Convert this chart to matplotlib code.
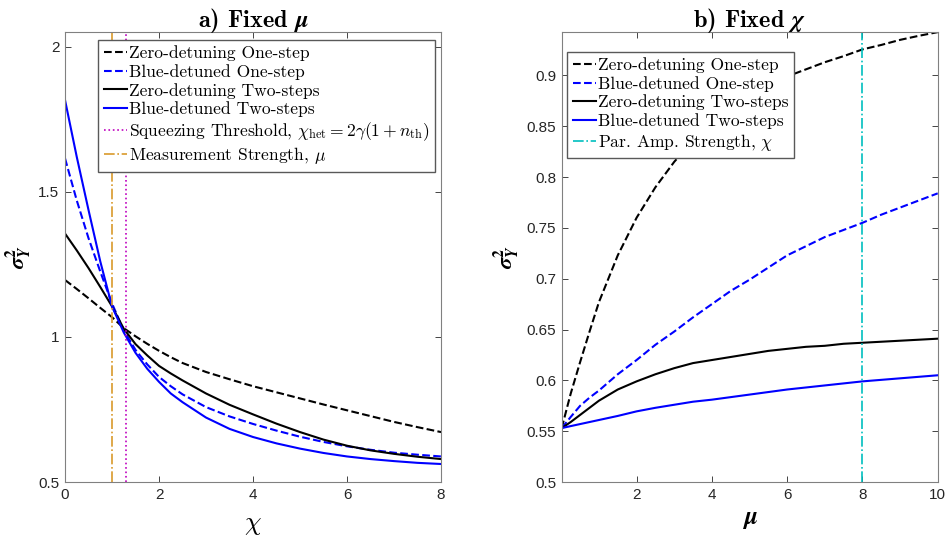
import numpy as np
import matplotlib
matplotlib.use('Agg')
import matplotlib.pyplot as plt
from matplotlib.font_manager import FontProperties

plt.rcParams['mathtext.fontset'] = 'cm'
plt.rcParams['font.family'] = ['Liberation Sans', 'DejaVu Sans']
plt.rcParams['axes.unicode_minus'] = False

# panel a: variance vs chi (fixed mu)
chi = [0, 0.25, 0.5, 0.75, 1, 1.25, 1.5, 1.75, 2, 2.25, 2.5, 3, 3.5, 4, 4.5, 5, 5.5, 6, 6.5, 7, 7.5, 8]
a_zero_one = [1.196, 1.165, 1.133, 1.100, 1.068, 1.030, 1.002, 0.976, 0.952, 0.930, 0.910, 0.879,
              0.854, 0.830, 0.809, 0.788, 0.767, 0.747, 0.727, 0.707, 0.689, 0.672]
a_blue_one = [1.615, 1.470, 1.340, 1.225, 1.115, 1.022, 0.955, 0.905, 0.862, 0.830, 0.802, 0.758,
              0.726, 0.700, 0.677, 0.656, 0.638, 0.623, 0.611, 0.601, 0.594, 0.588]
a_zero_two = [1.356, 1.298, 1.237, 1.172, 1.105, 1.028, 0.975, 0.936, 0.900, 0.874, 0.850, 0.805,
              0.766, 0.733, 0.701, 0.672, 0.646, 0.625, 0.609, 0.597, 0.587, 0.579]
a_blue_two = [1.816, 1.620, 1.437, 1.260, 1.105, 1.015, 0.945, 0.890, 0.845, 0.805, 0.775, 0.722,
              0.683, 0.655, 0.633, 0.615, 0.600, 0.588, 0.579, 0.572, 0.566, 0.562]
mu_fixed = 1.0
chi_threshold = 1.3

# panel b: variance vs mu (fixed chi)
mu = [0.01, 0.25, 0.5, 0.75, 1, 1.5, 2, 2.5, 3, 3.5, 4, 4.5, 5, 5.5, 6, 6.5, 7, 7.5, 8, 8.5, 9, 9.5, 10]
b_zero_one = [0.553, 0.587, 0.618, 0.648, 0.677, 0.723, 0.760, 0.790, 0.815, 0.836, 0.853, 0.868,
              0.880, 0.890, 0.899, 0.906, 0.913, 0.919, 0.9256, 0.930, 0.935, 0.939, 0.9426]
b_blue_one = [0.553, 0.564, 0.575, 0.583, 0.590, 0.606, 0.620, 0.635, 0.648, 0.662, 0.675, 0.688,
              0.699, 0.711, 0.723, 0.732, 0.741, 0.748, 0.755, 0.763, 0.770, 0.777, 0.784]
b_zero_two = [0.553, 0.559, 0.566, 0.573, 0.580, 0.591, 0.599, 0.606, 0.612, 0.617, 0.620, 0.623,
              0.626, 0.629, 0.631, 0.633, 0.634, 0.636, 0.637, 0.638, 0.639, 0.640, 0.641]
b_blue_two = [0.553, 0.555, 0.557, 0.559, 0.561, 0.565, 0.5695, 0.573, 0.576, 0.579, 0.581, 0.5835,
              0.586, 0.5885, 0.591, 0.593, 0.595, 0.597, 0.599, 0.6005, 0.602, 0.6035, 0.605]
chi_fixed = 8.0

labels = ['Zero-detuning One-step', 'Blue-detuned One-step',
          'Zero-detuning Two-steps', 'Blue-detuned Two-steps']

fig = plt.figure(figsize=(9.52, 5.42), dpi=100)
ax1 = fig.add_axes([0.0683, 0.1107, 0.395, 0.830])
ax2 = fig.add_axes([0.590, 0.1107, 0.395, 0.830])

leg_font = FontProperties(family='cmr10', size=12.6)
leg_kw = dict(prop=leg_font, frameon=True, fancybox=False, edgecolor='0.35', framealpha=1,
              handlelength=1.35, handletextpad=0.1, borderpad=0.3, labelspacing=0.16,
              borderaxespad=0)

ax1.plot(chi, a_zero_one, 'k--', lw=1.5, label=labels[0])
ax1.plot(chi, a_blue_one, '--', color='b', lw=1.5, label=labels[1])
ax1.plot(chi, a_zero_two, 'k-', lw=1.5, label=labels[2])
ax1.plot(chi, a_blue_two, '-', color='b', lw=1.5, label=labels[3])
ax1.axvline(chi_threshold, color='m', ls=':', lw=1.2,
            label=r'Squeezing Threshold, $\chi_{\rm het} = 2\gamma(1 + n_{\rm th})$')
ax1.axvline(mu_fixed, color='#D99A2B', ls='-.', lw=1.2, label=r'Measurement Strength, $\mu$')
ax1.set_xlim(0, 8)
ax1.set_ylim(0.5, 2.05)
ax1.set_xticks([0, 2, 4, 6, 8])
ax1.set_yticks([0.5, 1, 1.5, 2])
ax1.set_yticklabels(['0.5', '1', '1.5', '2'])
ax1.set_title(r'a) Fixed $\mathbfit{\mu}$', fontfamily='cmb10', fontsize=17.5, pad=4,
              math_fontfamily='stix')
ax1.set_xlabel(r'$\chi$', fontsize=19, labelpad=8)
ax1.set_ylabel(r'$\mathbfit{\sigma}^{\mathbf{2}}_{\mathbfit{Y}}$', fontsize=16, labelpad=4,
               math_fontfamily='stix')
ax1.legend(loc='upper right', bbox_to_anchor=(0.984, 0.982), **leg_kw)

ax2.plot(mu, b_zero_one, 'k--', lw=1.5, label=labels[0])
ax2.plot(mu, b_blue_one, '--', color='b', lw=1.5, label=labels[1])
ax2.plot(mu, b_zero_two, 'k-', lw=1.5, label=labels[2])
ax2.plot(mu, b_blue_two, '-', color='b', lw=1.5, label=labels[3])
ax2.axvline(chi_fixed, color='c', ls='-.', lw=1.2, label=r'Par. Amp. Strength, $\chi$')
ax2.set_xlim(0.01, 10)
ax2.set_ylim(0.5, 0.9426)
ax2.set_xticks([2, 4, 6, 8, 10])
ax2.set_yticks([0.5, 0.55, 0.6, 0.65, 0.7, 0.75, 0.8, 0.85, 0.9])
ax2.set_yticklabels(['0.5', '0.55', '0.6', '0.65', '0.7', '0.75', '0.8', '0.85', '0.9'])
ax2.set_title(r'b) Fixed $\mathbfit{\chi}$', fontfamily='cmb10', fontsize=17.5, pad=4,
              math_fontfamily='stix')
ax2.set_xlabel(r'$\mathbfit{\mu}$', fontsize=18, labelpad=4, math_fontfamily='stix')
ax2.set_ylabel(r'$\mathbfit{\sigma}^{\mathbf{2}}_{\mathbfit{Y}}$', fontsize=16, labelpad=4,
               math_fontfamily='stix')
ax2.legend(loc='upper left', bbox_to_anchor=(0.015, 0.956), **leg_kw)

for ax in (ax1, ax2):
    ax.tick_params(direction='in', top=True, right=True, labelsize=11, colors='0.15',
                   length=4, width=0.6, pad=4)
    for s in ax.spines.values():
        s.set_color('0.5')
        s.set_linewidth(0.8)

plt.savefig('out.png', dpi=100)
